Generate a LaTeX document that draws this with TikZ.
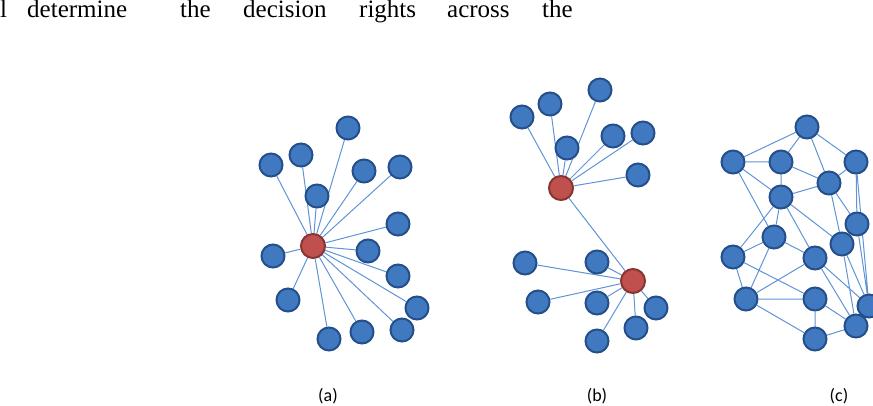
\documentclass[tikz,border=0pt]{standalone}
\usepackage{fontspec}
\setmainfont{Liberation Serif}
\newfontfamily\labelfont{Carlito}
\usetikzlibrary{backgrounds}
\definecolor{nodefill}{HTML}{4079C0}
\definecolor{nodeline}{HTML}{244F8A}
\definecolor{hubfill}{HTML}{C0504D}
\definecolor{hubline}{HTML}{883431}
\definecolor{linkcol}{HTML}{5F94D8}
\begin{document}
\begin{tikzpicture}[x=1pt, y=-1pt,
  nd/.style={circle, draw=nodeline, fill=nodefill, line width=2pt, minimum size=23pt, inner sep=0pt},
  hub/.style={circle, draw=hubline, fill=hubfill, line width=2pt, minimum size=24pt, inner sep=0pt},
  lnk/.style={draw=linkcol, line width=1pt},
  sublbl/.style={font=\labelfont\fontsize{18}{18}\selectfont, inner sep=0pt},
  wd/.style={font=\fontsize{25}{25}\selectfont, anchor=base west, inner sep=0pt}]
\useasboundingbox (0,0) rectangle (873,406);
% running text at the top
\node[wd] (w1) at (0,18) {l};
\node[wd] (w2) at (27,18) {determine};
\node[wd] (w3) at (180,18) {the};
\node[wd] (w4) at (243,18) {decision};
\node[wd] (w5) at (359,18) {rights};
\node[wd] (w6) at (447,18) {across};
\node[wd] (w7) at (542,18) {the};
% (a) centralised
\node[hub] (a0) at (313,246) {};
\node[nd] (a1) at (348,128) {};
\node[nd] (a2) at (301,155) {};
\node[nd] (a3) at (271,165) {};
\node[nd] (a4) at (364,171) {};
\node[nd] (a5) at (400,167) {};
\node[nd] (a6) at (317,196) {};
\node[nd] (a7) at (398,224) {};
\node[nd] (a8) at (368,251) {};
\node[nd] (a9) at (273,256) {};
\node[nd] (a10) at (398,276) {};
\node[nd] (a11) at (288,300) {};
\node[nd] (a12) at (417,308) {};
\node[nd] (a13) at (402,330) {};
\node[nd] (a14) at (362,332) {};
\node[nd] (a15) at (329,339) {};
\begin{scope}[on background layer]
\draw[lnk] (a0) -- (a1) (a0) -- (a2) (a0) -- (a3) (a0) -- (a4) (a0) -- (a5)
  (a0) -- (a6) (a0) -- (a7) (a0) -- (a8) (a0) -- (a9) (a0) -- (a10)
  (a0) -- (a11) (a0) -- (a12) (a0) -- (a13) (a0) -- (a14) (a0) -- (a15);
\end{scope}
% (b) two hubs
\node[hub] (bt) at (561,188) {};
\node[hub] (bb) at (633,281) {};
\node[nd] (b1) at (600,90) {};
\node[nd] (b2) at (550,104) {};
\node[nd] (b3) at (522,117) {};
\node[nd] (b4) at (567,148) {};
\node[nd] (b5) at (613,136) {};
\node[nd] (b6) at (643,133) {};
\node[nd] (b7) at (638,175) {};
\node[nd] (b8) at (525,263) {};
\node[nd] (b9) at (597,262) {};
\node[nd] (b10) at (538,302) {};
\node[nd] (b11) at (597,303) {};
\node[nd] (b12) at (656,308) {};
\node[nd] (b13) at (636,328) {};
\node[nd] (b14) at (597,341) {};
\begin{scope}[on background layer]
\draw[lnk] (bt) -- (b1) (bt) -- (b2) (bt) -- (b3) (bt) -- (b4) (bt) -- (b5)
  (bt) -- (b6) (bt) -- (b7) (bt) -- (bb);
\draw[lnk] (bb) -- (b8) (bb) -- (b9) (bb) -- (b10) (bb) -- (b11) (bb) -- (b12)
  (bb) -- (b13) (bb) -- (b14);
\end{scope}
% (c) mesh
\node[nd] (cA) at (807,127) {};
\node[nd] (cB) at (733,162) {};
\node[nd] (cC) at (781,162) {};
\node[nd] (cD) at (856,162) {};
\node[nd] (cE) at (829,183) {};
\node[nd] (cF) at (781,197) {};
\node[nd] (cG) at (857,224) {};
\node[nd] (cH) at (774,237) {};
\node[nd] (cI) at (842,244) {};
\node[nd] (cJ) at (733,257) {};
\node[nd] (cK) at (815,258) {};
\node[nd] (cL) at (746,299) {};
\node[nd] (cM) at (815,299) {};
\node[nd] (cN) at (869,306) {};
\node[nd] (cO) at (856,326) {};
\node[nd] (cP) at (815,339) {};
\begin{scope}[on background layer]
\draw[lnk] (cA) -- (cB) (cA) -- (cC) (cA) -- (cE) (cA) -- (cD)
  (cB) -- (cC) (cB) -- (cF) (cB) -- (cH) (cC) -- (cE) (cC) -- (cF)
  (cD) -- (cE) (cD) -- (cG) (cD) -- (cN) (cE) -- (cF) (cE) -- (cI) (cE) -- (cG)
  (cF) -- (cH) (cF) -- (cI) (cF) -- (cK) (cF) -- (cJ) (cG) -- (cN)
  (cH) -- (cJ) (cH) -- (cK) (cH) -- (cL) (cJ) -- (cL) (cJ) -- (cM)
  (cK) -- (cL) (cK) -- (cO) (cK) -- (cN) (cI) -- (cO) (cI) -- (cN)
  (cL) -- (cM) (cL) -- (cP) (cM) -- (cP) (cM) -- (cO) (cP) -- (cO);
\end{scope}
% captions
\node[sublbl] (la) at (328,396) {(a)};
\node[sublbl] (lb) at (597,396) {(b)};
\node[sublbl] (lc) at (839,396) {(c)};
\end{tikzpicture}
\end{document}
